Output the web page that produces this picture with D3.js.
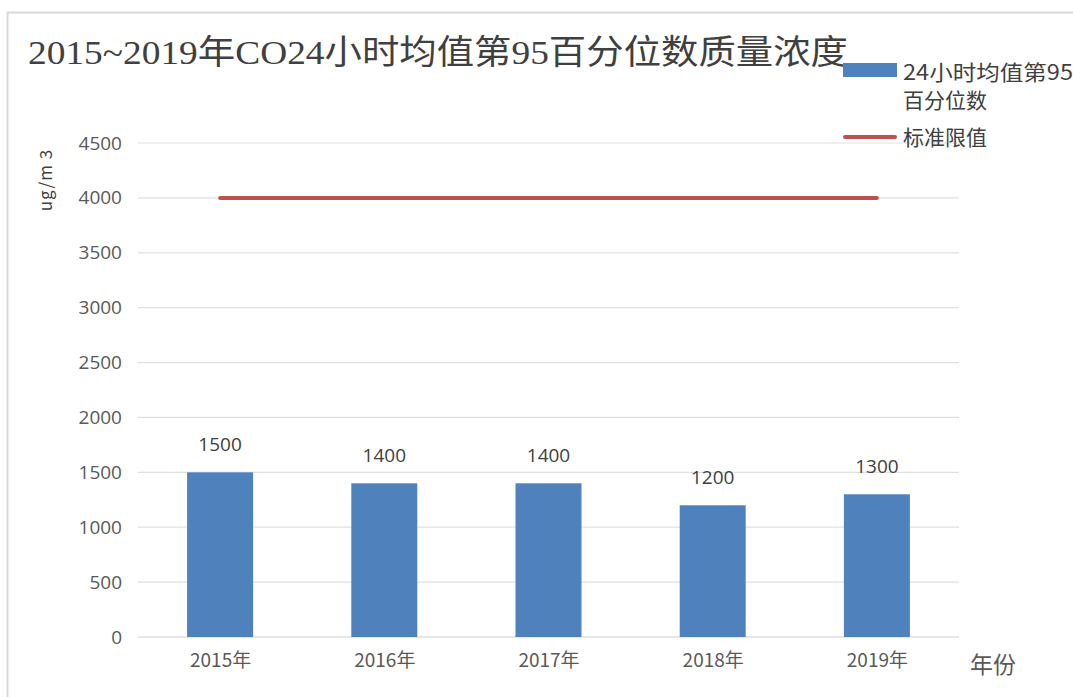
<!DOCTYPE html>
<html>
<head>
<meta charset="utf-8">
<script src="https://cdn.jsdelivr.net/npm/d3@7"></script>
<style>
  body { margin: 0; background: #fff; }
  text { font-family: "Noto Sans CJK SC", "DejaVu Sans", sans-serif; }
</style>
</head>
<body>
<div id="chart"></div>
<script>
// data
const years = ["2015年", "2016年", "2017年", "2018年", "2019年"];
const p95Values = [1500, 1400, 1400, 1200, 1300];
const limitValues = [4000, 4000, 4000, 4000, 4000];
const yTicks = [0, 500, 1000, 1500, 2000, 2500, 3000, 3500, 4000, 4500];

const W = 1073, H = 697;
const margin = { LEFT: 138, RIGHT: 114, TOP: 143, BOTTOM: 60 };
const width = W - margin.LEFT - margin.RIGHT;
const height = H - margin.TOP - margin.BOTTOM;

const svg = d3.select("#chart").append("svg")
  .attr("width", W)
  .attr("height", H);

// outer frame
svg.append("rect")
  .attr("x", 7.5).attr("y", 12.5)
  .attr("width", W + 10).attr("height", H + 10)
  .attr("fill", "none")
  .attr("stroke", "#d9d9d9")
  .attr("stroke-width", 2);

const g = svg.append("g")
  .attr("transform", `translate(${margin.LEFT}, ${margin.TOP})`);

// scales
const xc = d3.scalePoint().domain(years).range([0, width]).padding(0.5);
const y = d3.scaleLinear().domain([0, 4500]).range([height, 0]);

// gridlines
g.append("g")
  .selectAll("line")
  .data(yTicks)
  .join("line")
  .attr("x1", 0).attr("x2", width)
  .attr("y1", d => y(d)).attr("y2", d => y(d))
  .attr("stroke", d => d === 0 ? "#d0d0d0" : "#e0e0e0")
  .attr("stroke-width", 1.2);

// y axis
const yAxis = g.append("g")
  .call(d3.axisLeft(y).tickValues(yTicks).tickFormat(d3.format("d")).tickSize(0).tickPadding(16));
yAxis.select(".domain").remove();
yAxis.selectAll("text")
  .attr("font-size", "19px")
  .attr("fill", "#595959")
  .style("font-family", "'Open Sans', 'DejaVu Sans', sans-serif");

// x axis
const xAxis = g.append("g")
  .attr("transform", `translate(0, ${height})`)
  .call(d3.axisBottom(xc).tickSize(0).tickPadding(17));
xAxis.select(".domain").remove();
xAxis.selectAll("text")
  .attr("font-size", "19px")
  .attr("fill", "#595959");

// bars
const bw = 66;
g.selectAll(".bar")
  .data(p95Values)
  .join("rect")
  .attr("class", "bar")
  .attr("x", (d, i) => xc(years[i]) - bw / 2)
  .attr("width", bw)
  .attr("y", d => y(d))
  .attr("height", d => height - y(d))
  .attr("fill", "#4f81bd");

// bar labels
g.selectAll(".bar-label")
  .data(p95Values)
  .join("text")
  .attr("class", "bar-label")
  .attr("x", (d, i) => xc(years[i]))
  .attr("y", d => y(d) - 21)
  .attr("text-anchor", "middle")
  .attr("font-size", "19px")
  .attr("fill", "#404040")
  .style("font-family", "'Open Sans', 'DejaVu Sans', sans-serif")
  .text(d => d);

// limit line
const line = d3.line()
  .x((d, i) => xc(years[i]))
  .y(d => y(d));
g.append("path")
  .attr("d", line(limitValues))
  .attr("fill", "none")
  .attr("stroke", "#c0504d")
  .attr("stroke-width", 4)
  .attr("stroke-linecap", "round");

// title
svg.append("text")
  .attr("x", 28).attr("y", 64)
  .attr("font-size", "34px")
  .attr("fill", "#404040")
  .attr("textLength", 820)
  .attr("lengthAdjust", "spacingAndGlyphs")
  .style("font-family", "'Liberation Serif', 'Noto Sans CJK SC', serif")
  .text("2015~2019年CO24小时均值第95百分位数质量浓度");

// y label
svg.append("text")
  .attr("transform", "translate(52, 180) rotate(-90)")
  .attr("text-anchor", "middle")
  .attr("font-size", "17px")
  .attr("fill", "#404040")
  .attr("letter-spacing", "1px")
  .text("ug/m 3");

// x axis label
svg.append("text")
  .attr("x", 970).attr("y", 673)
  .attr("font-size", "23px")
  .attr("fill", "#595959")
  .text("年份");

// legend
const legend = svg.append("g");
legend.append("rect")
  .attr("x", 843).attr("y", 63)
  .attr("width", 54).attr("height", 14)
  .attr("fill", "#4f81bd");
legend.append("text")
  .attr("x", 903).attr("y", 80)
  .attr("font-size", "21px")
  .attr("fill", "#404040")
  .attr("textLength", 170)
  .attr("lengthAdjust", "spacingAndGlyphs")
  .text("24小时均值第95");
legend.append("text")
  .attr("x", 903).attr("y", 108)
  .attr("font-size", "21px")
  .attr("fill", "#404040")
  .text("百分位数");
legend.append("line")
  .attr("x1", 845).attr("x2", 895)
  .attr("y1", 137).attr("y2", 137)
  .attr("stroke", "#c0504d")
  .attr("stroke-width", 4)
  .attr("stroke-linecap", "round");
legend.append("text")
  .attr("x", 903).attr("y", 145)
  .attr("font-size", "21px")
  .attr("fill", "#404040")
  .text("标准限值");
</script>
</body>
</html>
